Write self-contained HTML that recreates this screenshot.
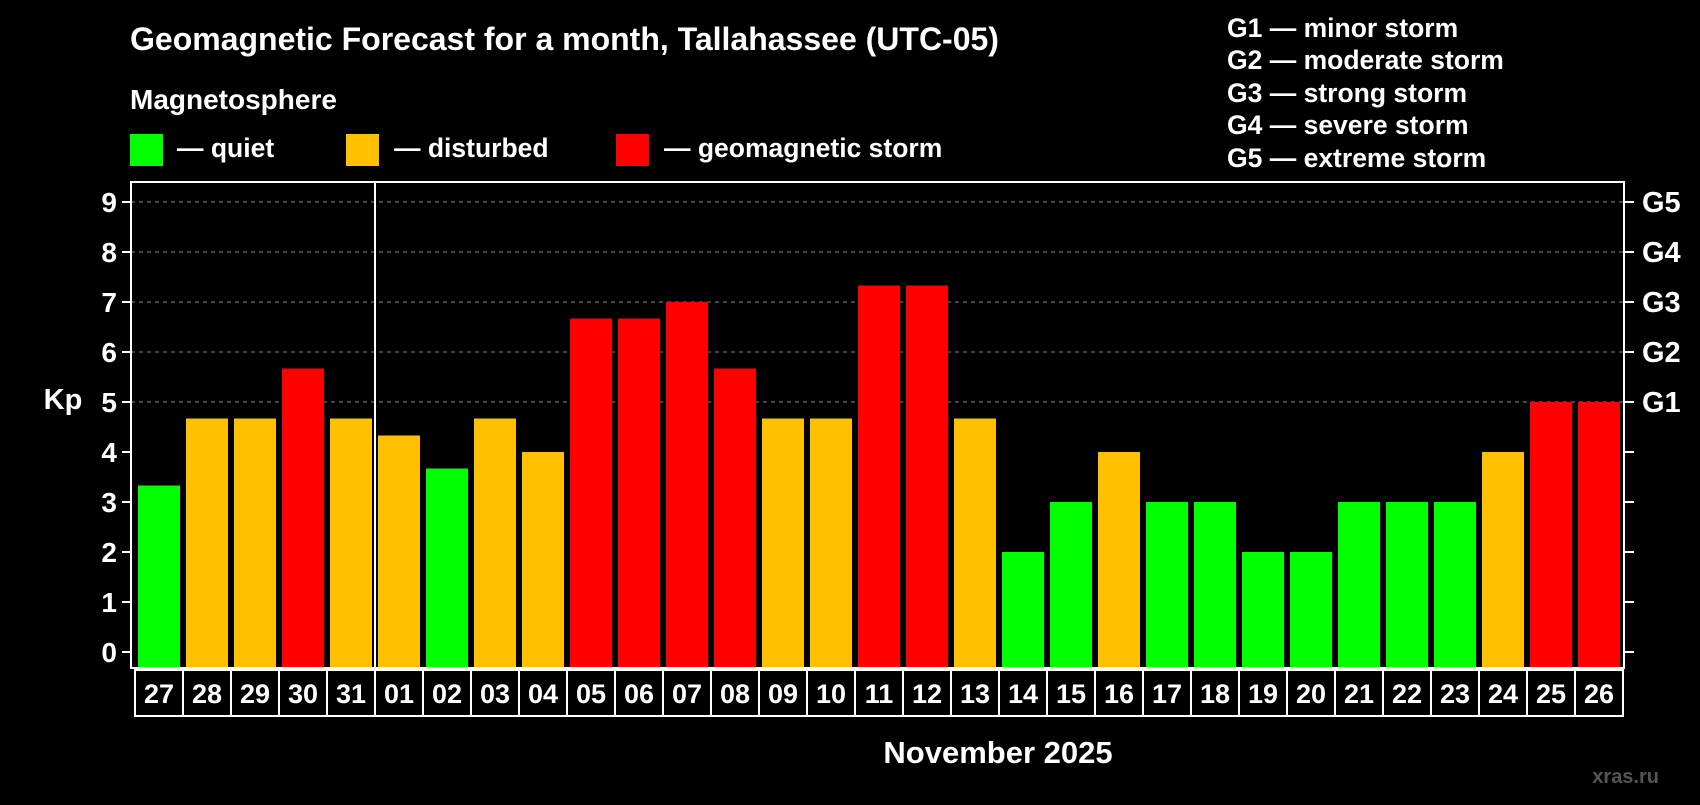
<!DOCTYPE html>
<html><head><meta charset="utf-8"><style>
body{margin:0;background:#000;width:1700px;height:800px;overflow:hidden}
svg text{font-family:"Liberation Sans",sans-serif;font-weight:bold;fill:#fff}
</style></head><body>
<svg id="c" width="1700" height="800">
<text x="130" y="50" font-size="32">Geomagnetic Forecast for a month, Tallahassee (UTC-05)</text>
<text x="130" y="109" font-size="28">Magnetosphere</text>
<rect x="130" y="134" width="33" height="32" fill="#00ff00"/>
<text x="177" y="157" font-size="26.5">— quiet</text>
<rect x="346" y="134" width="33" height="32" fill="#ffc000"/>
<text x="394" y="157" font-size="26.5">— disturbed</text>
<rect x="616" y="134" width="33" height="32" fill="#ff0000"/>
<text x="664" y="157" font-size="26.5">— geomagnetic storm</text>
<g font-size="26.5">
<text x="1227" y="37">G1 — minor storm</text>
<text x="1227" y="69">G2 — moderate storm</text>
<text x="1227" y="102">G3 — strong storm</text>
<text x="1227" y="134">G4 — severe storm</text>
<text x="1227" y="167">G5 — extreme storm</text>
</g>
<text x="63" y="409" font-size="29" text-anchor="middle">Kp</text>
<text x="998" y="763" font-size="31" text-anchor="middle">November 2025</text>
<text x="1659" y="783" font-size="20" text-anchor="end" style="fill:#555">xras.ru</text>
<g id="grid"></g><g id="bars"></g><g id="axes"></g>
</svg>
<script>
const days=["27","28","29","30","31","01","02","03","04","05","06","07","08","09","10","11","12","13","14","15","16","17","18","19","20","21","22","23","24","25","26"];
const kp=[3.33,4.67,4.67,5.67,4.67,4.33,3.67,4.67,4,6.67,6.67,7,5.67,4.67,4.67,7.33,7.33,4.67,2,3,4,3,3,2,2,3,3,3,4,5,5];
const yTicks=[0,1,2,3,4,5,6,7,8,9];
const gLabels=["G1","G2","G3","G4","G5"];
const NS="http://www.w3.org/2000/svg";
const L=131,R=1624,T=182,B=668,y0=652,unit=(652-202)/9,pitch=48,bx=138,bw=42;
const y=v=>y0-v*unit, x=i=>bx+i*pitch;
function mk(t,a,p){const e=document.createElementNS(NS,t);for(const k in a)e.setAttribute(k,a[k]);document.getElementById(p).appendChild(e);return e;}
yTicks.forEach(v=>{
 if(v>=5){const g=mk('line',{x1:L,x2:R,y1:y(v),y2:y(v),stroke:'#888','stroke-dasharray':'4,4','stroke-width':1},'grid');
 
 }
 mk('line',{x1:122,x2:L,y1:y(v),y2:y(v),stroke:'#fff','stroke-width':2},'axes');
 mk('line',{x1:R,x2:1634,y1:y(v),y2:y(v),stroke:'#fff','stroke-width':2},'axes');
 const t=mk('text',{x:117,y:y(v)+10,'font-size':28,'text-anchor':'end'},'axes');t.textContent=v;
 
 
});
gLabels.forEach((g,i)=>{const t=mk('text',{x:1642,y:y(5+i)+10,'font-size':29},'axes');t.textContent=g;
 
 });
kp.forEach((v,i)=>{
 const c=v<4?'#00ff00':(v<5?'#ffc000':'#ff0000');
 const r=mk('rect',{x:x(i),y:y(v),width:bw,height:B-1-y(v),fill:c},'bars');
 
 
 const bx0=x(i)-3;
 mk('rect',{x:bx0,y:670,width:pitch,height:46,fill:'none',stroke:'#fff','stroke-width':2},'axes');
 const t=mk('text',{x:x(i)+bw/2,y:703,'font-size':27,'text-anchor':'middle'},'axes');t.textContent=days[i];
 
 
});
mk('rect',{x:L,y:T,width:R-L,height:B-T,fill:'none',stroke:'#fff','stroke-width':2},'axes');
mk('line',{x1:375,x2:375,y1:T,y2:B,stroke:'#fff','stroke-width':2},'axes');
</script>
</body></html>
